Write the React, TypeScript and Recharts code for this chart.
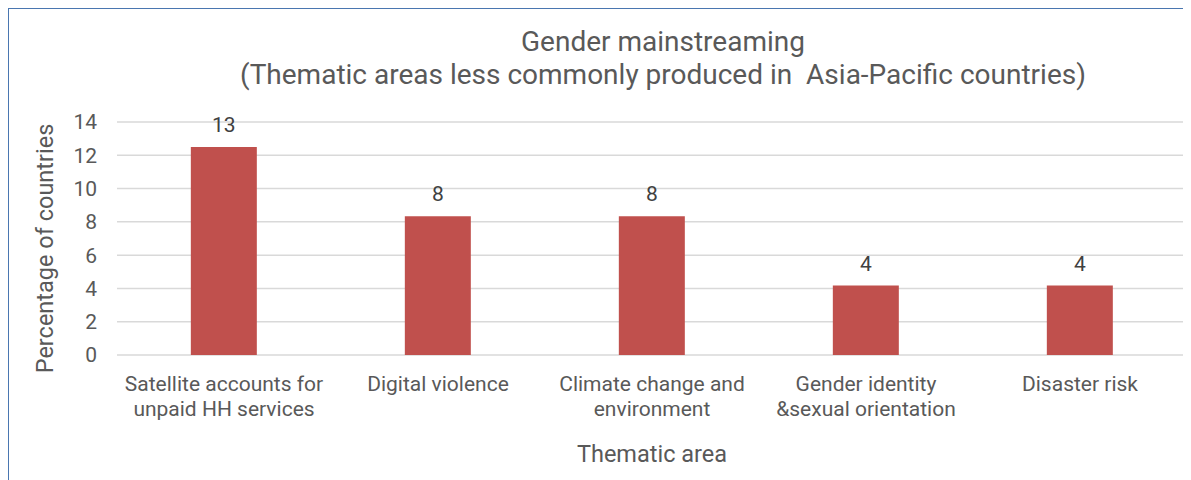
import { BarChart, Bar, XAxis, YAxis, CartesianGrid, LabelList, Label } from 'recharts';

const categories = [
  'Satellite accounts for\nunpaid HH services',
  'Digital violence',
  'Climate change and\nenvironment',
  'Gender identity\n&sexual orientation',
  'Disaster risk',
];
const percentages = [12.5, 8.33, 8.33, 4.17, 4.17];
const yTicks = [0, 2, 4, 6, 8, 10, 12, 14];

const data = categories.map((name, i) => ({ name, value: percentages[i] }));

const FONT = 'Roboto, "Noto Sans", sans-serif';
const TEXT = '#595959';

const CategoryTick = (props: any) => {
  const { x, y, payload } = props;
  const lines = String(payload.value).split('\n');
  return (
    <text x={x} y={y} textAnchor="middle" fill={TEXT} fontSize={21} fontFamily={FONT}>
      {lines.map((line, i) => (
        <tspan key={i} x={x} dy={i === 0 ? 34 : 25}>
          {line}
        </tspan>
      ))}
    </text>
  );
};

const App = () => {
  return (
    <div
      style={{
        position: 'relative',
        width: 1183,
        height: 472,
        borderTop: '1.5px solid #4a76b0',
        borderLeft: '1.5px solid #4a76b0',
        boxSizing: 'border-box',
        fontFamily: FONT,
        overflow: 'hidden',
      }}
    >
      <div
        style={{
          position: 'absolute',
          left: 152,
          width: 1004,
          top: 16,
          textAlign: 'center',
          color: TEXT,
          fontSize: 28,
          lineHeight: '33px',
        }}
      >
        Gender mainstreaming
        <br />
        (Thematic areas less commonly produced in&nbsp; Asia-Pacific countries)
      </div>
      <BarChart
        width={1182}
        height={470}
        data={data}
        margin={{ top: 113, right: 4, left: 0, bottom: 13 }}
        barCategoryGap="34.5%"
      >
        <CartesianGrid vertical={false} stroke="#d9d9d9" strokeWidth={1.5} />
        <XAxis
          dataKey="name"
          interval={0}
          height={111}
          tickLine={false}
          axisLine={false}
          tickSize={0}
          tick={<CategoryTick />}
        >
          <Label
            value="Thematic area"
            position="insideBottom"
            offset={4}
            fill={TEXT}
            fontSize={23.5}
            fontFamily={FONT}
          />
        </XAxis>
        <YAxis
          width={108}
          domain={[0, 14]}
          ticks={yTicks}
          tickLine={false}
          axisLine={false}
          tickSize={0}
          tickMargin={20}
          tick={{ fill: TEXT, fontSize: 21, fontFamily: FONT }}
        >
          <Label
            value="Percentage of countries"
            angle={-90}
            position="center"
            dx={-18}
            dy={10}
            fill={TEXT}
            fontSize={23.5}
            fontFamily={FONT}
          />
        </YAxis>
        <Bar dataKey="value" fill="#c0504d" isAnimationActive={false}>
          <LabelList
            dataKey="value"
            position="top"
            offset={15}
            formatter={(v: any) => Math.round(Number(v))}
            fill="#404040"
            fontSize={21}
            fontFamily={FONT}
          />
        </Bar>
      </BarChart>
    </div>
  );
};

export default App;
